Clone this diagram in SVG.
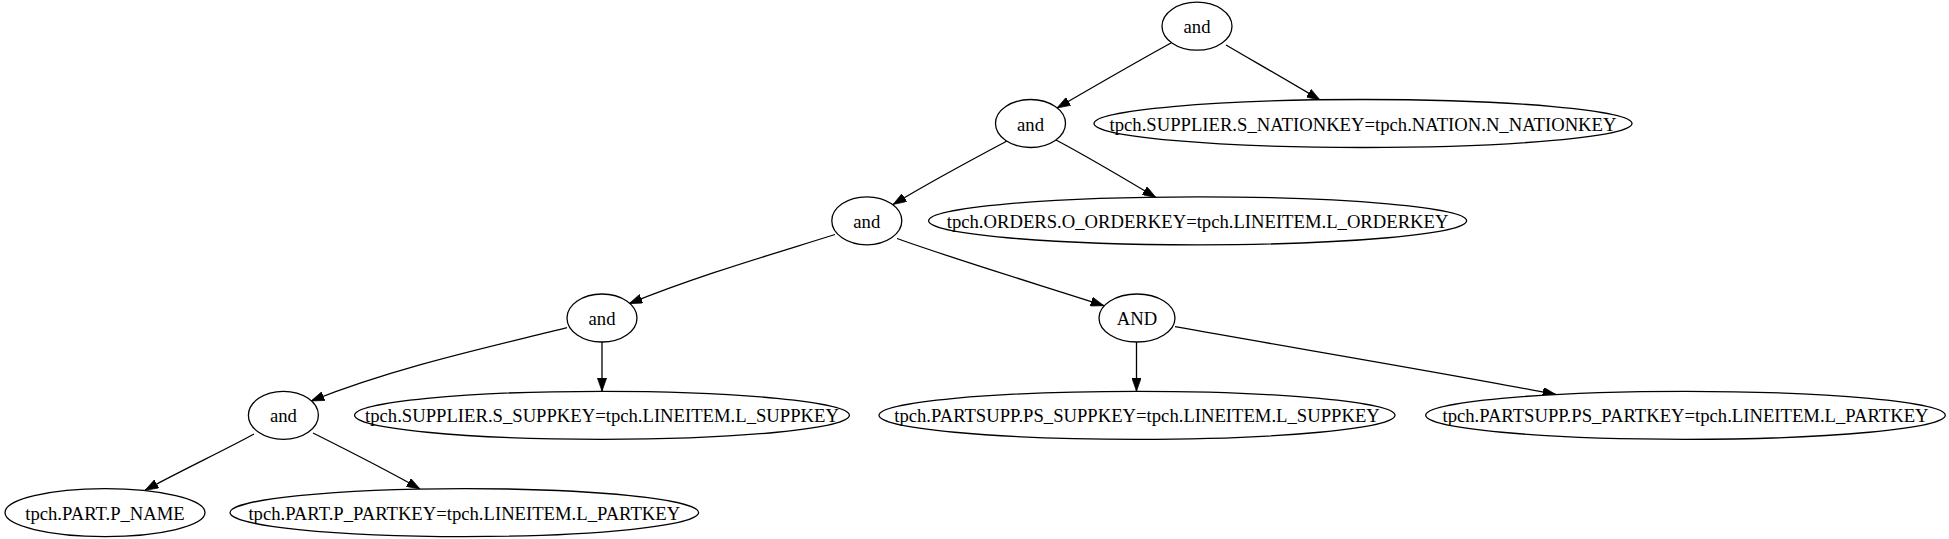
<svg xmlns="http://www.w3.org/2000/svg" width="1949" height="539" viewBox="0 0 1949 539">
<style>
  .n ellipse { fill: #ffffff; stroke: #000000; stroke-width: 1.3; }
  .n text { font-family: "Liberation Serif", "Times New Roman", serif; font-size: 18.67px; text-anchor: middle; fill: #000000; }
  .e path { fill: none; stroke: #000000; stroke-width: 1.3; marker-end: url(#arr); }
</style>
<defs>
  <marker id="arr" viewBox="0 0 10 7" refX="10" refY="3.5" markerWidth="13.3" markerHeight="9.3" markerUnits="userSpaceOnUse" orient="auto">
    <path d="M0,0 L10,3.5 L0,7 z" fill="#000000" stroke="#000000" stroke-width="0.5"/>
  </marker>
</defs>
<rect width="1949" height="539" fill="#ffffff"/>
<g id="edges" class="e">
  <path d="M1171,43 C1140,60 1100,83 1057,108"/>
  <path d="M1226,45 C1255,62 1290,82 1320,100"/>
  <path d="M1007,141 C975,158 930,182 893,204.5"/>
  <path d="M1056,140 C1090,158 1125,179 1156,197.5"/>
  <path d="M835,234.5 C770,255 700,275 629,303.7"/>
  <path d="M897,238.5 C960,261 1040,285 1104,305.7"/>
  <path d="M567,327.7 C490,347 400,366 311,401"/>
  <path d="M602,342 L602,391.3"/>
  <path d="M1136.5,342 L1136.5,391.3"/>
  <path d="M1175,326.7 C1300,349 1450,374 1556,394.5"/>
  <path d="M254,434 C225,450 180,471 145,490.3"/>
  <path d="M313,433 C345,449 385,469 420,489"/>
</g>
<g id="n1" class="n"><ellipse cx="1197" cy="26.2" rx="35" ry="24"/><text x="1197" y="33.2">and</text></g>
<g id="n2" class="n"><ellipse cx="1363" cy="123.5" rx="269" ry="24"/><text x="1363" y="130.5">tpch.SUPPLIER.S_NATIONKEY=tpch.NATION.N_NATIONKEY</text></g>
<g id="n3" class="n"><ellipse cx="1030.5" cy="123.5" rx="35" ry="24"/><text x="1030.5" y="130.5">and</text></g>
<g id="n4" class="n"><ellipse cx="866.8" cy="220.8" rx="35" ry="24"/><text x="866.8" y="227.8">and</text></g>
<g id="n5" class="n"><ellipse cx="1197.6" cy="220.8" rx="269" ry="24"/><text x="1197.6" y="227.8">tpch.ORDERS.O_ORDERKEY=tpch.LINEITEM.L_ORDERKEY</text></g>
<g id="n6" class="n"><ellipse cx="602" cy="318" rx="35" ry="24"/><text x="602" y="325">and</text></g>
<g id="n7" class="n"><ellipse cx="1137" cy="318" rx="38" ry="24"/><text x="1137" y="325">AND</text></g>
<g id="n8" class="n"><ellipse cx="283.4" cy="415.3" rx="35" ry="24"/><text x="283.4" y="422.3">and</text></g>
<g id="n9" class="n"><ellipse cx="602" cy="415.3" rx="247.4" ry="24"/><text x="602" y="422.3">tpch.SUPPLIER.S_SUPPKEY=tpch.LINEITEM.L_SUPPKEY</text></g>
<g id="n10" class="n"><ellipse cx="1137" cy="415.3" rx="258" ry="24"/><text x="1137" y="422.3">tpch.PARTSUPP.PS_SUPPKEY=tpch.LINEITEM.L_SUPPKEY</text></g>
<g id="n11" class="n"><ellipse cx="1685.5" cy="415.3" rx="259.8" ry="24"/><text x="1685.5" y="422.3">tpch.PARTSUPP.PS_PARTKEY=tpch.LINEITEM.L_PARTKEY</text></g>
<g id="n12" class="n"><ellipse cx="105" cy="512.6" rx="100" ry="24"/><text x="105" y="519.6">tpch.PART.P_NAME</text></g>
<g id="n13" class="n"><ellipse cx="464.3" cy="512.6" rx="234.3" ry="24"/><text x="464.3" y="519.6">tpch.PART.P_PARTKEY=tpch.LINEITEM.L_PARTKEY</text></g>
</svg>
